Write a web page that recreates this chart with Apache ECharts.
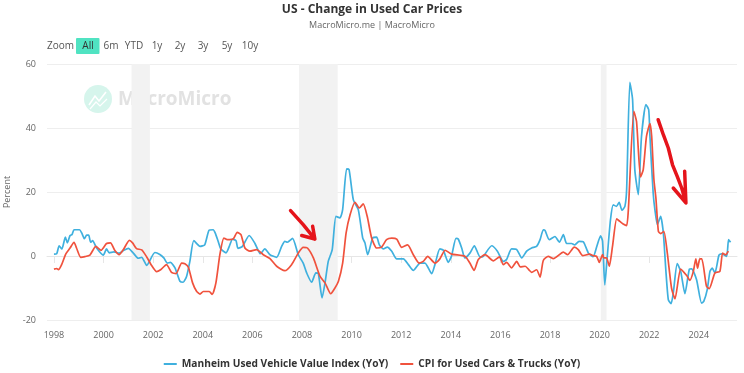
<!DOCTYPE html>
<html><head><meta charset="utf-8">
<style>html,body{margin:0;padding:0;background:#fff}#c{width:744px;height:373px}</style>
<script src="https://cdn.jsdelivr.net/npm/echarts@6/dist/echarts.min.js"></script>
</head><body><div id="c"></div>
<script>
const xTicks=[1998,2000,2002,2004,2006,2008,2010,2012,2014,2016,2018,2020,2022,2024];
const manheimDates=[1998,1998.11,1998.21,1998.32,1998.46,1998.54,1998.65,1998.73,1998.81,1999.03,1999.12,1999.23,1999.32,1999.4,1999.48,1999.56,1999.72,1999.99,2000.12,2000.23,2000.42,2000.63,2000.8,2001,2001.2,2001.4,2001.54,2001.74,2002.07,2002.27,2002.43,2002.57,2002.7,2002.88,2003.08,2003.21,2003.35,2003.48,2003.64,2003.89,2004.08,2004.25,2004.42,2004.5,2004.62,2004.73,2004.94,2005.07,2005.2,2005.34,2005.42,2005.6,2005.87,2006.1,2006.23,2006.32,2006.5,2006.71,2006.98,2007.18,2007.31,2007.41,2007.62,2007.85,2008.05,2008.19,2008.39,2008.56,2008.66,2008.81,2008.93,2009.06,2009.22,2009.37,2009.53,2009.64,2009.8,2009.9,2010.07,2010.27,2010.45,2010.54,2010.65,2010.85,2011.01,2011.12,2011.28,2011.44,2011.62,2011.82,2012.09,2012.29,2012.49,2012.76,2012.96,2013.23,2013.36,2013.56,2013.7,2013.9,2014.03,2014.21,2014.3,2014.44,2014.57,2014.77,2014.95,2015.18,2015.31,2015.65,2015.88,2016.12,2016.25,2016.45,2016.66,2016.86,2017.06,2017.26,2017.46,2017.6,2017.73,2017.8,2017.97,2018.2,2018.38,2018.54,2018.67,2018.87,2019,2019.17,2019.35,2019.55,2019.74,2019.88,2020.04,2020.12,2020.21,2020.31,2020.44,2020.55,2020.68,2020.79,2020.9,2021.02,2021.09,2021.22,2021.33,2021.42,2021.56,2021.69,2021.87,2021.98,2022.03,2022.16,2022.23,2022.33,2022.46,2022.57,2022.67,2022.77,2022.88,2022.97,2023.13,2023.27,2023.44,2023.62,2023.71,2023.91,2024.11,2024.2,2024.34,2024.45,2024.54,2024.65,2024.81,2024.92,2025.12,2025.2,2025.28];
const manheimValues=[0.6,0.7,3.2,2.2,5.9,4.1,6.4,6.7,8.2,8.2,7.2,5.4,6.5,6.5,4.3,4.8,2.5,0.3,2.2,1,1.3,0.9,1.7,2.4,0.9,-0.7,-0.4,-2.9,1.1,0.5,-0.6,-2.2,-2,-3.7,-7.9,-8.2,-6.3,-1.7,4.8,3,3.5,8,8.2,7.2,4.6,2.2,1,3,5.3,4.8,2.4,3,6.4,4,1.8,0.7,2.2,0.4,-0.4,3,4.6,4.3,5.5,0.4,-2.2,-5.3,-8.2,-5.3,-5.5,-13.1,-8.4,-1.7,2,12.4,11.9,14.5,27.2,27,17.6,14.5,5.6,4.1,0.4,5.6,5.9,3.5,2.2,2.8,1.5,-0.9,-0.9,-2.7,-4.5,-2.2,-2.2,-5.5,-2.7,2.2,1.8,-2,0,5.5,5.3,2.5,-0.6,0.9,3.2,-0.3,-0.1,3.2,1.5,-1.7,-1.1,2.2,2,-0.6,1.5,2.5,3,5.1,8.2,8,5.1,6.1,4.3,6.7,3.9,3.9,3.5,4.6,4.4,0.9,-0.2,2.8,6.3,4.6,-9,-0.1,11.4,16,15.5,16.8,14.3,15.5,20.7,54.3,48.9,27,19.2,37.4,47.3,45.7,37.4,19.7,14.5,9.8,12.4,7.2,-4.3,-13.6,-14.9,-11.6,-2.4,-4.8,-11.8,-4.1,-4,-7.4,-14.7,-14.2,-10.5,-4.8,-3.8,-5.3,0.2,0.7,-0.1,5.1,4.3];
const cpiDates=[1998,1998.11,1998.18,1998.31,1998.48,1998.65,1998.81,1998.91,1999.08,1999.25,1999.45,1999.69,1999.9,2000.12,2000.28,2000.45,2000.63,2000.8,2001.04,2001.17,2001.33,2001.54,2001.74,2001.94,2002.14,2002.3,2002.54,2002.74,2002.92,2003.15,2003.28,2003.42,2003.59,2003.75,2003.89,2004.02,2004.26,2004.38,2004.53,2004.69,2004.85,2004.99,2005.23,2005.39,2005.54,2005.7,2005.9,2006.17,2006.44,2006.71,2006.98,2007.31,2007.58,2007.85,2008.05,2008.22,2008.46,2008.73,2008.93,2009.16,2009.33,2009.47,2009.64,2009.78,2009.94,2010.14,2010.31,2010.47,2010.63,2010.81,2011.01,2011.21,2011.41,2011.62,2011.82,2012.02,2012.26,2012.49,2012.72,2012.89,2013.07,2013.36,2013.56,2013.77,2014.03,2014.57,2014.77,2014.94,2015.11,2015.38,2015.72,2015.96,2016.12,2016.25,2016.45,2016.66,2016.8,2017,2017.15,2017.26,2017.46,2017.6,2017.73,2017.93,2018.14,2018.54,2018.71,2018.98,2019.14,2019.32,2019.59,2019.74,2019.88,2019.99,2020.12,2020.17,2020.28,2020.39,2020.52,2020.69,2020.82,2020.95,2021.09,2021.16,2021.38,2021.49,2021.65,2021.76,2021.89,2022.03,2022.1,2022.19,2022.27,2022.37,2022.46,2022.59,2022.73,2022.9,2023.04,2023.27,2023.51,2023.64,2023.78,2023.88,2023.95,2024.04,2024.12,2024.31,2024.42,2024.65,2024.85,2024.96,2025.09,2025.19];
const cpiValues=[-4.1,-3.9,-4.3,-2.7,0.7,2.5,4.3,2.5,-0.4,-0.2,0.3,3,1.8,3.9,4.1,1.8,0.4,2,4.9,4.1,2.3,1.9,-0.3,-3,-4.9,-4.3,-2.7,-5.1,-5.5,-2.2,-2.4,-3.5,-8.4,-11,-11.9,-11.1,-11.1,-12,-8.4,0.4,5.6,5.1,5.3,7.4,6.7,2.5,1.5,2,0.4,-0.8,-3.2,-4.6,-2.7,0.9,2.7,2.5,-0.6,-6.4,-8.4,-11.8,-10,-7.9,-2.2,7.2,12.9,16.8,15,16.3,12.4,5.6,2.5,2.8,5.1,5.6,5.3,2.7,3.5,0.4,-2.2,-1.7,-0.1,-2.2,-0.9,1.8,0.6,-0.1,-2.2,-4.5,-1.1,0.4,-1.5,-0.3,-2.7,-2,-3.7,-1.7,-3.4,-3.2,-4.3,-5.1,-4.3,-6.6,-1.4,-0.1,-0.8,1.2,0.4,2.8,2,0.1,0.6,0.1,-0.1,-2,0.4,-0.6,-0.6,-3.2,3,11.6,10.8,10,9.5,14.5,45.2,42,24.7,27,37.4,41.4,37.4,23.9,18.1,7.7,7,7.7,0.9,-10,-13.4,-4.1,-6.1,-7.6,-4.8,-0.9,-3.8,-0.9,-0.9,-9.5,-10.2,-5.3,-4.8,0.9,0.4,1.5];
const recessions=[[2001.13,2001.87],[2007.88,2009.44],[2020.05,2020.28]];
const arrowOneDates=[2007.54,2008.05,2008.52,null,2007.99,2008.52,2008.43];
const arrowOneValues=[14.2,9.8,5.3,null,6.4,5.3,9.3];
const arrowTwoDates=[2022.36,2022.57,2022.77,2022.94,2023.13,2023.31,2023.48,null,2022.97,2023.48,2023.43];
const arrowTwoValues=[42.6,37.9,33.75,28.5,24.9,21.25,16.6,null,21.25,16.6,26.5];
const rangeLabels=[['6m',111],['YTD',134],['1y',157],['2y',180],['3y',203],['5y',227],['10y',250]];
const zip=(a,b)=>a.map((d,i)=>[d,b[i]]);
const FONT='"Open Sans","Noto Sans",sans-serif';
const chart=echarts.init(document.getElementById('c'),null,{renderer:'canvas'});
const lineBase={type:'line',showSymbol:false,symbol:'none',smooth:0.2,animation:false,silent:true};
const arrow=(d,v)=>({type:'line',showSymbol:false,symbol:'none',animation:false,silent:true,connectNulls:false,data:zip(d,v),lineStyle:{color:'#e5141b',width:3.5,cap:'round',join:'round'},z:6,legendHoverLink:false});
chart.setOption({
 animation:false,
 backgroundColor:'#fff',
 textStyle:{fontFamily:FONT},
 title:{text:'US - Change in Used Car Prices',subtext:'MacroMicro.me | MacroMicro',left:'center',top:-1,itemGap:5,
  textStyle:{fontFamily:FONT,fontSize:12,fontWeight:'bold',color:'#333'},
  subtextStyle:{fontFamily:FONT,fontSize:9,color:'#666'}},
 grid:{left:47,right:7,top:64,bottom:53,outerBoundsMode:'none'},
 xAxis:{type:'value',min:1997.72,max:2025.54,splitLine:{show:false},
  axisLine:{lineStyle:{color:'#e6e6e6'}},
  axisTick:{show:true,length:7,lineStyle:{color:'#e6e6e6'},customValues:xTicks},
  axisLabel:{customValues:xTicks,color:'#666',fontSize:9,margin:11,formatter:v=>String(v)}},
 yAxis:{type:'value',min:-20,max:60,interval:20,name:'Percent',nameLocation:'middle',nameGap:25,
  nameTextStyle:{color:'#666',fontSize:9},
  axisLine:{show:false},axisTick:{show:false},
  axisLabel:{color:'#666',fontSize:9,margin:11},
  splitLine:{lineStyle:{color:'#eeeeee'}}},
 legend:{data:['Manheim Used Vehicle Value Index (YoY)','CPI for Used Cars & Trucks (YoY)'],left:'center',top:354,icon:'rect',itemWidth:13,itemHeight:2,itemGap:12,
  textStyle:{fontFamily:FONT,fontSize:10.2,fontWeight:'bold',color:'#333'}},
 series:[
  {...lineBase,name:'Manheim Used Vehicle Value Index (YoY)',data:zip(manheimDates,manheimValues),itemStyle:{color:'#3fb0de'},lineStyle:{color:'#3fb0de',width:1.7},z:3,
   markArea:{silent:true,itemStyle:{color:'#f2f2f2'},data:recessions.map(r=>[{xAxis:r[0]},{xAxis:r[1]}])}},
  {...lineBase,name:'CPI for Used Cars & Trucks (YoY)',data:zip(cpiDates,cpiValues),itemStyle:{color:'#f0523d'},lineStyle:{color:'#f0523d',width:1.7},z:4},
  {...arrow(arrowOneDates,arrowOneValues),name:'arrow1'},
  {...arrow(arrowTwoDates,arrowTwoValues),name:'arrow2'}
 ],
 graphic:[
  {type:'circle',shape:{cx:98,cy:99,r:14},style:{fill:'#d6f5ec'},z:1,silent:true},
  {type:'polyline',shape:{points:[[89,105],[95,96],[99,101],[106,92]]},style:{stroke:'#fff',lineWidth:1.6,fill:null},z:1,silent:true},
  {type:'polyline',shape:{points:[[90,109],[96,102],[100,106],[107,99]]},style:{stroke:'#fff',lineWidth:1.2,fill:null},z:1,silent:true},
  {type:'text',x:118,y:100,style:{text:'MacroMicro',font:'bold 19px '+FONT,fill:'#e2e2e2',textVerticalAlign:'middle'},z:1,silent:true},
  {type:'text',x:47,y:46,style:{text:'Zoom',font:'10px '+FONT,fill:'#555',textVerticalAlign:'middle'},silent:true},
  {type:'rect',shape:{x:76,y:38,width:23.5,height:16,r:1},style:{fill:'#50e3c2'},silent:true},
  {type:'text',x:88,y:46,style:{text:'All',font:'10px '+FONT,fill:'#333',textAlign:'center',textVerticalAlign:'middle'},silent:true},
  ...rangeLabels.map(r=>({type:'text',x:r[1],y:46,style:{text:r[0],font:'10px '+FONT,fill:'#555',textAlign:'center',textVerticalAlign:'middle'},silent:true}))
 ]
});
</script></body></html>
